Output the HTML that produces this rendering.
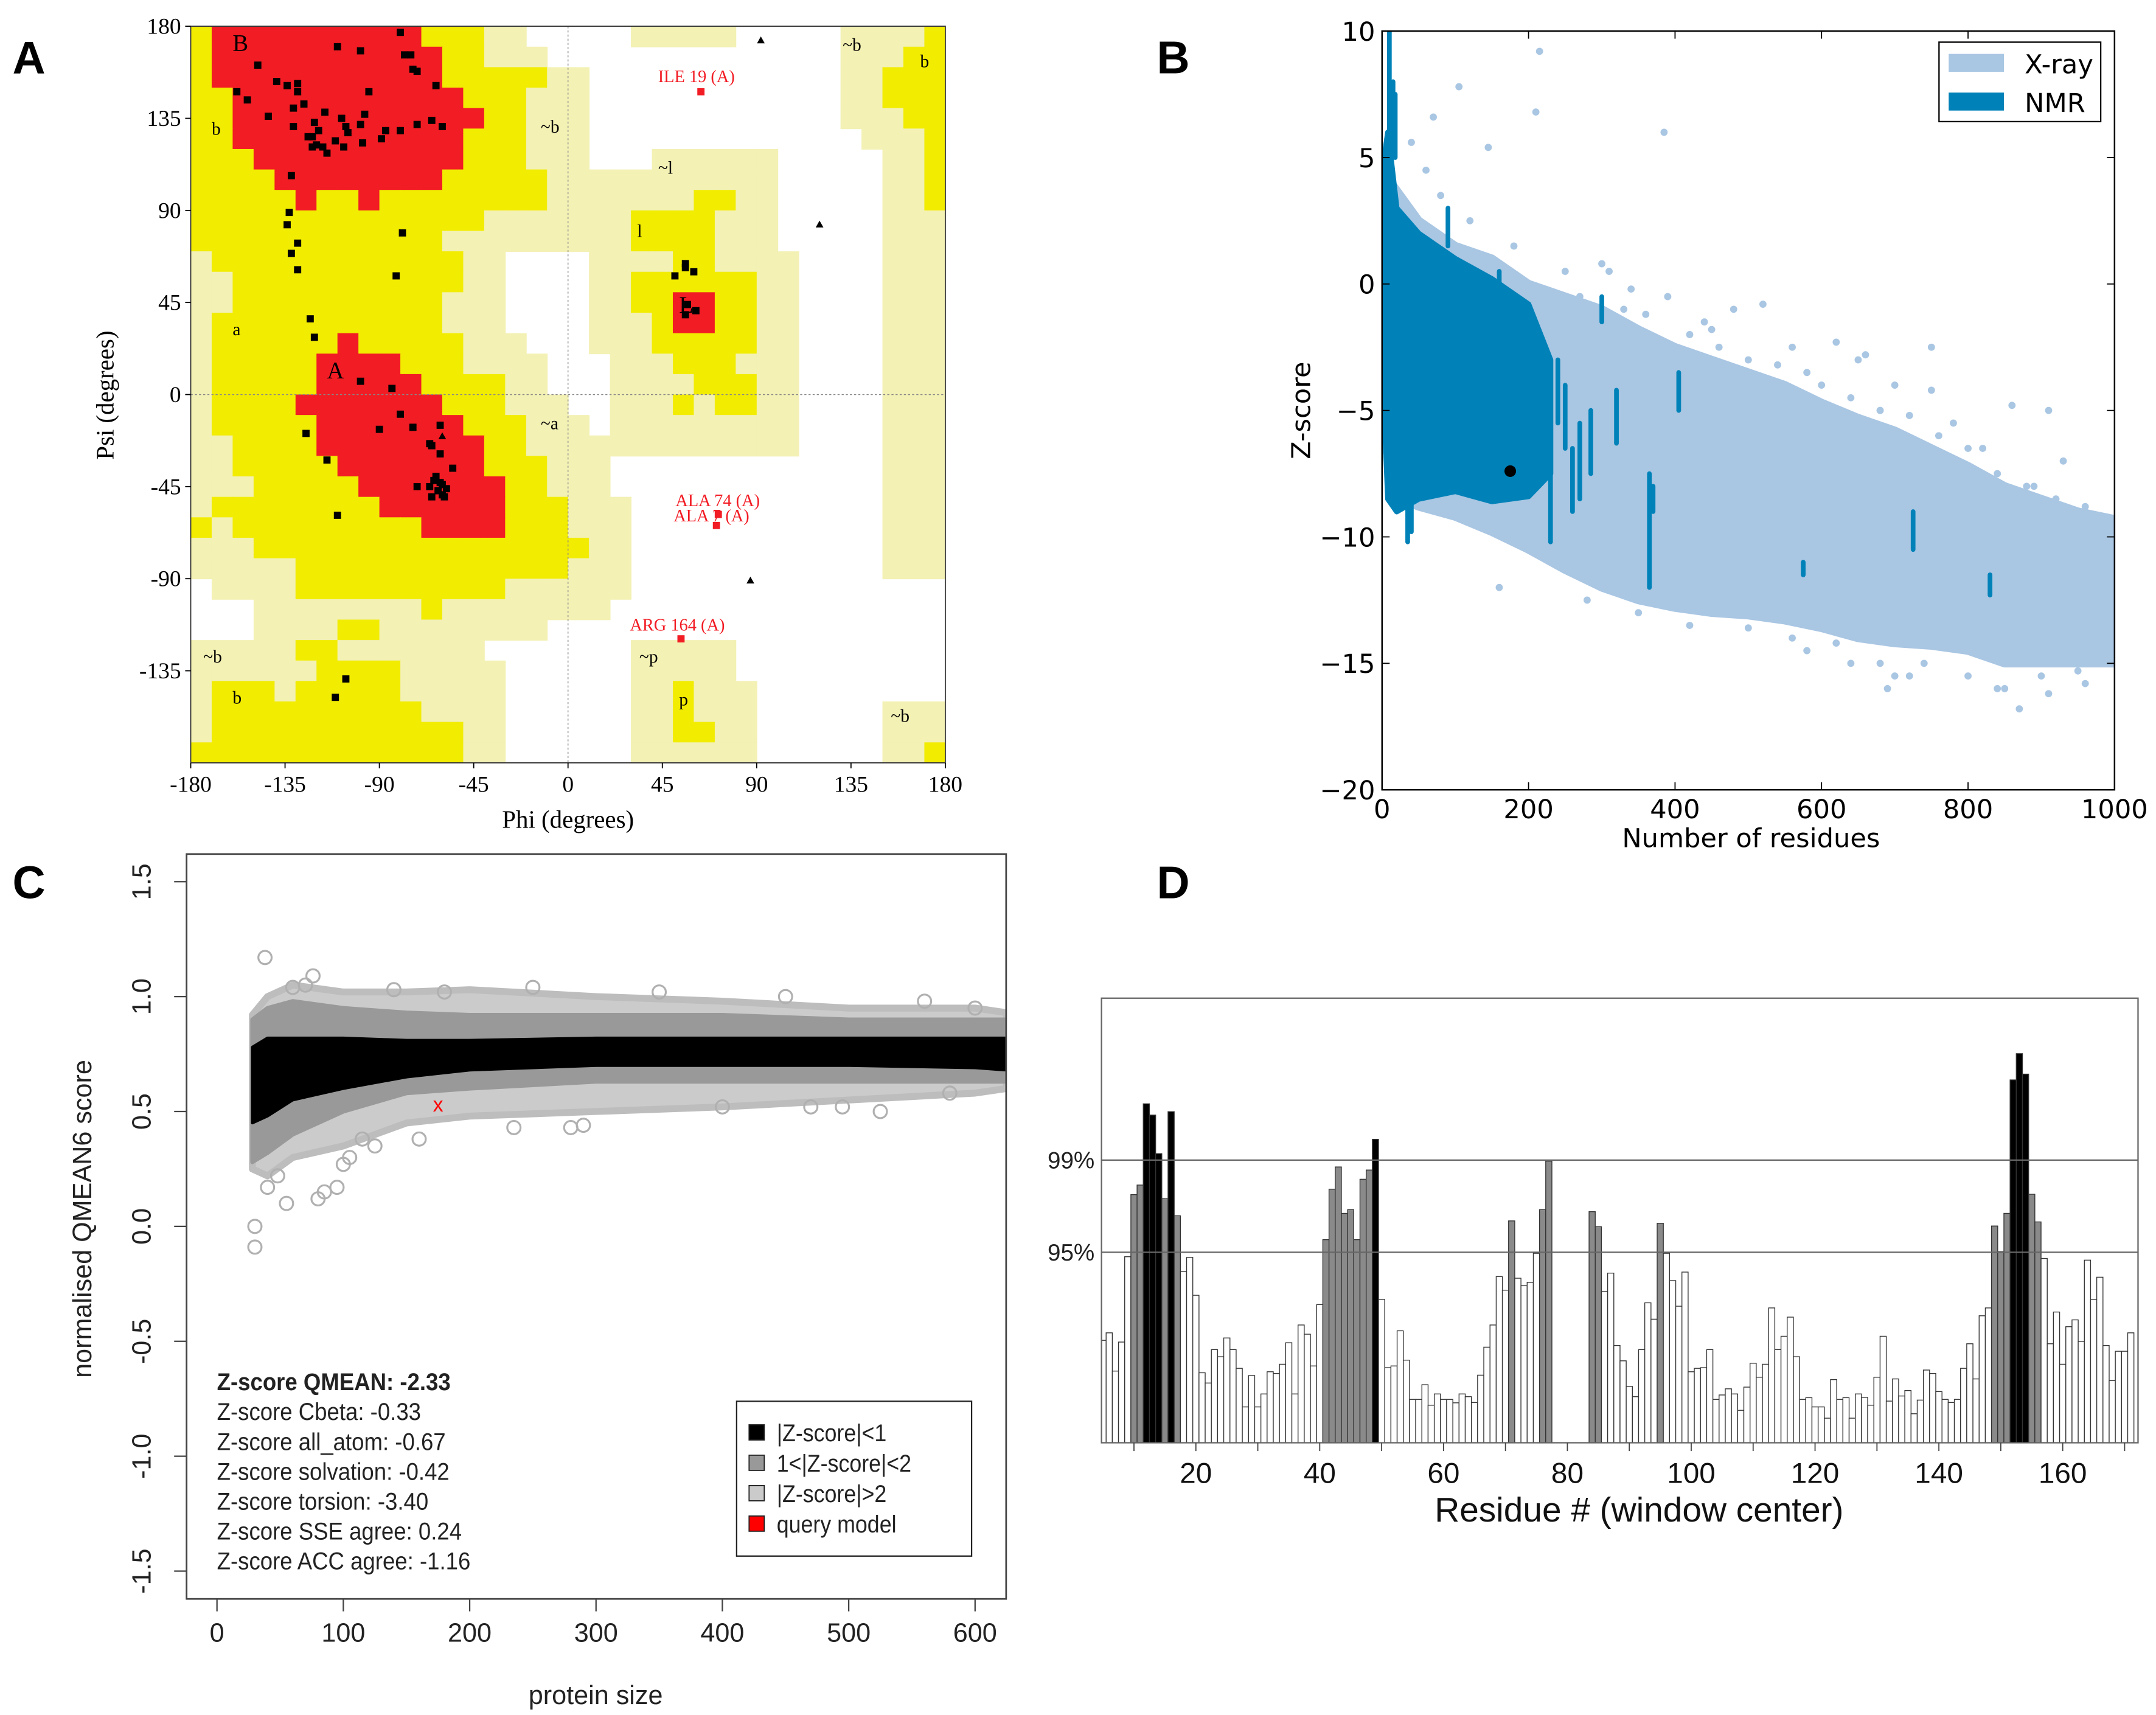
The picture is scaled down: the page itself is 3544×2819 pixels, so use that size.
<!DOCTYPE html>
<html><head><meta charset="utf-8"><style>
html,body{margin:0;padding:0;background:#fff}
svg{display:block}
</style></head><body>
<svg id="fig" width="3544" height="2819" viewBox="0 0 1560 1241" preserveAspectRatio="none" xmlns="http://www.w3.org/2000/svg">
<defs>
<clipPath id="clipA"><rect x="138" y="19" width="546" height="533"/></clipPath>
<clipPath id="clipB"><rect x="1000" y="22.5" width="530" height="549"/></clipPath>
<clipPath id="clipC"><rect x="135" y="618" width="593" height="539"/></clipPath>
<clipPath id="clipD"><rect x="797" y="722" width="750" height="322"/></clipPath>
</defs>
<rect x="0" y="0" width="1560" height="1241" fill="#fff"/>
<g font-family="Liberation Sans, sans-serif" font-weight="bold" font-size="33" fill="#000">
<text x="9" y="53">A</text>
<text x="837" y="53">B</text>
<text x="9" y="650">C</text>
<text x="837" y="650">D</text>
</g>
<g id="panelA"></g>
<g id="panelB"></g>
<g id="panelC"></g>
<g id="panelD"></g>
</svg>
<script>
// ---------- Panel A data ----------
const ramaRows = [
"YRRRRRRRRRRYYYLLWWWWWLLLLLWWWWWLLLLY",
"YRRRRRRRRRRRYYLLLWWWWWWWWWWWWWWLLLYY",
"YRRRRRRRRRRRYYYYYLLWWWWWWWWWWWWLLYYY",
"YYRRRRRRRRRRRYYYLLLWWWWWWWWWWWWLLYYY",
"YYRRRRRRRRRRRRYYLLLWWWWWWWWWWWWLLLYY",
"YYRRRRRRRRRRRYYYLLLWWWWWWWWWWWWWLLLY",
"YYYRRRRRRRRRRYYYLLLWWWLLLLLLWWWWWLLY",
"YYYYRRRRRRRRYYYYYLLLLLLLLLLLWWWWWLLY",
"YYYYYRYYRYYYYYYYYLLLLLLLYYLLWWWWWLLY",
"YYYYYYYYYYYYYYLLLLLLLYYYYLLLWWWWWLLL",
"YYYYYYYYYYYYLLLLLLLLLYYYYLLLWWWWWLLL",
"LYYYYYYYYYYYYLLWWWWLLLLYYLLLLWWWWLLL",
"LLYYYYYYYYYYYLLWWWWLLYYYYYYLLWWWWLLL",
"LLYYYYYYYYYYLLLWWWWLLYYRRYYLLWWWWLLL",
"LYYYYYYYYYYYLLLWWWWLLLYRRYYLLWWWWLLL",
"LYYYYYYRYYYYYLLLWWWLLLYYYYYLLWWWWLLL",
"LYYYYYRRRRYYYLLLLWWWLLLYYYLLLWWWWLLL",
"LYYYYYRRRRRYYYYLLWWWLLLLYYYLLWWWWLLL",
"LYYYYRRRRRRRYYYLLLWWLLLYLYYLLWWWWLLL",
"LYYYYYRRRRRRRYYYLLLWLLLLLLLLLWWWWLLL",
"LLYYYYRRRRRRRRYYLLLLLLLLLLLLLWWWWLLL",
"LLYYYYYRRRRRRRYYYLLLWWWWWWWWWWWWWLLL",
"LLLYYYYYRRRRRRRYYLLLWWWWWWWWWWWWWLLL",
"LYYYYYYYYRRRRRRYYYLLLWWWWWWWWWWWWLLL",
"YLYYYYYYYYYRRRRYYYLLLWWWWWWWWWWWWLLL",
"LLLYYYYYYYYYYYYYYYYLLWWWWWWWWWWWWLLL",
"LLLLLYYYYYYYYYYYYYLLLWWWWWWWWWWWWLLL",
"WLLLLYYYYYYYYYYLLLLLLWWWWWWWWWWWWWWW",
"WWWLLLLLLLLYLLLLLLLLWWWWWWWWWWWWWWWW",
"WWWLLLLYYLLLLLLLLWWWWWWWWWWWWWWWWWWW",
"LLLLLYYLLLLLLLWWWWWWWLLLLLWWWWWWWWWW",
"LLLLLLYYYYLLLLLWWWWWWLLLLLWWWWWWWWWW",
"LYYYLYYYYYLLLLLWWWWWWLLYLLLWWWWWWWWW",
"LYYYYYYYYYYLLLLWWWWWWLLYLLLWWWWWWLLL",
"LYYYYYYYYYYYYLLWWWWWWLLYYLLWWWWWWLLL",
"YYYYYYYYYYYYYLLWWWWWWLLLLLLWWWWWWLLY"
];
const ramaPhi = [-80,-110,-99,-148,-78,-75,-74,-72,-63,-139,-134,-129,-129,-158,-153,-95,-143,-131,-126,-116,-108,-97,-65,-72,-60,-121,-119,-122,-120,-122,-117,-115,-111,-124,-131,-107,-105,-106,-99,-98,-87,-89,-80,-132,-133,-134,-129,-132,-129,-79,-82,-123,-121,-99,-84,-80,-90,-74,-61,-125,-66,-65,-61,-115,-55,-64,-60,-62,-58,-66,-63,-59,-61,-72,-65,-60,-110,-106,-111,56,56,51,60,57,61,56];
const ramaPsi = [177,170,168,161,166,166,159,158,151,153,151,152,148,148,144,148,136,140,142,138,135,137,134,132,131,133,129,126,122,121,121,118,124,126,131,121,128,131,132,123,129,125,129,107,89,83,74,69,61,79,58,37,28,6.5,3,-9.6,-17,-16,-15,-19,-24,-25,-29,-32,-36,-42,-44,-47,-46,-45,-40,-50,-43,-45,-50,-49,-59,-139,-148,64,62,58,60,44,41,39];
const glyPhi = [92,120,87,-60];
const glyPsi = [173,83,-91,-20.5];
const outPhi = [63.4,71.7,70.8,53.9];
const outPsi = [148,-58.6,-64,-119.4];
const outLabels = ["ILE 19 (A)","ALA 74 (A)","ALA 7 (A)","ARG 164 (A)"];
const ramaTicks = [-180,-135,-90,-45,0,45,90,135,180];
const regionLabels = ["B","b","~b","~l","l","L","a","A","~a","~b","b","~b","b","~p","p","~b"];
const regionPhi = [-160,-170,-13,43,33,53,-160,-115,-13,131,168,-174,-160,34,53,154];
const regionPsi = [168,127,128,108,77,40,29,8,-17,168,160,-131,-151,-131,-152,-160];

// ---------- Panel B data ----------
const xrayN = [0,25,50,100,150,200,250,300,350,400,450,500,550,600,650,700,750,800,850,900,950,1000];
const xrayUpper = [4.5,3.5,2.5,1.5,1,0,-0.5,-1,-1.8,-2.5,-3,-3.5,-4,-4.7,-5.3,-5.8,-6.5,-7.2,-8,-8.5,-9,-9.3];
const xrayLower = [-6,-8.5,-8.8,-9.2,-9.8,-10.5,-11.3,-12,-12.5,-12.8,-13,-13.1,-13.3,-13.6,-14,-14.2,-14.3,-14.5,-15,-15,-15,-15];
const nmrN = [3,8,20,50,100,150,200,230];
const nmrUpper = [5,6,3,2,1,0.2,-0.8,-3];
const nmrLower = [-5,-8.5,-9,-8.5,-8.2,-8.6,-8.4,-7.5];
const nmrStreakN = [10,15,18,90,300,365,370,260,270,725,830,575,405,320,285,230,160,240,250,35,40];
const nmrStreakLo = [4,5,5,1.5,-1.5,-12,-9,-9,-8.5,-10.5,-12.3,-11.5,-5,-6.3,-7.5,-10.2,-2,-5.5,-6.5,-10.2,-9.8];
const nmrStreakHi = [10,8,7.5,3,-0.5,-7.5,-8,-6.5,-5.5,-9,-11.5,-11,-3.5,-4.2,-5,-7,0.5,-3,-4,-8.5,-8.5];
const xOutN = [215,105,70,210,385,145,40,520,620,750,860,910,930,580,660,700,680,160,870,690,840,910,950,980,310,340,390,560,780,820,890,960,995,640,720,480,440,650,250,270,330,360,420,460,500,540,600,640,680,720,760,800,840,880,920,960,120,80,60,180,280,350,420,500,560,620,680,740,800,850,900,960,580,700,300,450,750];
const xOutZ = [9.2,7.8,6.6,6.8,6,5.4,5.6,-0.8,-2.3,-2.5,-4.8,-5,-7,-3.5,-2.8,-4,-5,-12,-16.8,-16,-16,-16.2,-15.3,-14,0.5,-0.2,-0.5,-2.5,-5.5,-6.5,-8,-9,-9.5,-15,-15.5,-1,-1.5,-3,0.5,-0.5,-1,-1.2,-2,-2.5,-3,-3.2,-4,-4.5,-5,-5.2,-6,-6.5,-7.5,-8,-8.5,-8.8,2.5,3.5,4.5,1.5,-12.5,-13,-13.5,-13.6,-14,-14.2,-15,-15,-15.5,-16,-15.5,-15.8,-14.5,-15.5,0.8,-1.8,-4.2];
const queryN = [175];
const queryZ = [-7.4];
const bXTicks = [0,200,400,600,800,1000];
const bYTicks = [10,5,0,-5,-10,-15,-20];

// ---------- Panel C data ----------
const cN = [28,40,60,100,150,200,300,400,500,600,625];
const cLightUp = [0.92,1.0,1.05,1.02,1.02,1.03,1.0,0.98,0.95,0.95,0.93];
const cLightLo = [0.25,0.22,0.3,0.35,0.45,0.48,0.5,0.52,0.55,0.58,0.6];
const cGrayUp = [0.9,0.95,0.98,0.95,0.93,0.92,0.92,0.92,0.9,0.9,0.9];
const cGrayLo = [0.28,0.32,0.4,0.5,0.58,0.6,0.63,0.63,0.63,0.63,0.63];
const cBlackUp = [0.78,0.82,0.82,0.82,0.81,0.81,0.82,0.82,0.82,0.82,0.82];
const cBlackLo = [0.45,0.48,0.55,0.6,0.65,0.68,0.7,0.7,0.7,0.69,0.68];
const cOutN = [38,30,30,55,80,85,95,40,48,100,105,115,125,160,235,290,280,525,495,470,400,76,60,70,140,180,250,350,450,560,600,580];
const cOutV = [1.17,0.0,-0.09,0.1,0.12,0.15,0.17,0.17,0.22,0.27,0.3,0.38,0.35,0.38,0.43,0.44,0.43,0.5,0.52,0.52,0.52,1.09,1.04,1.05,1.03,1.02,1.04,1.02,1.0,0.98,0.95,0.58];
const cQueryN = [175];
const cQueryV = [0.53];
const cXTicks = [0,100,200,300,400,500,600];
const cYTicks = [1.5,1.0,0.5,0.0,-0.5,-1.0,-1.5];
const cYTickLabels = ["1.5","1.0","0.5","0.0","-0.5","-1.0","-1.5"];

// ---------- Panel D data ----------
const dFirstResidue = 5;
const dValues = [30.0,32.2,21.0,29.5,54.5,72.7,75.5,99.3,96.0,84.7,71.5,97.0,66.5,50.2,54.3,43.2,20.5,17.5,27.3,25.2,30.7,27.3,21.8,10.5,19.7,10.5,14.3,20.8,20.3,23.0,29.3,14.3,34.5,31.8,22.5,40.5,59.5,74.3,80.8,67.2,68.3,59.5,77.2,79.9,88.9,42.0,22.0,22.5,32.8,24.2,12.7,12.7,17.0,11.0,14.3,12.7,12.7,11.7,14.3,13.5,11.8,19.8,28.0,34.5,48.7,44.7,65.0,48.2,46.0,47.0,55.5,68.3,82.5,0,0,0,0,0,0,67.7,63.3,44.3,49.7,28.5,24.0,16.5,13.5,27.3,41.0,36.2,64.3,55.5,47.5,40.0,50.0,20.8,21.8,22.0,27.3,12.7,14.0,15.8,14.3,9.5,16.3,23.3,19.2,23.0,39.5,27.3,31.2,36.8,25.2,12.7,13.2,10.5,10.5,7.2,18.5,12.7,13.2,7.2,14.3,13.3,11.0,19.2,31.2,12.2,18.7,13.7,15.3,8.5,12.5,21.3,20.3,15.0,12.7,11.8,12.7,21.8,29.0,18.7,37.2,39.5,63.5,56.0,67.2,106.3,114.0,108.0,72.8,64.7,54.0,29.0,38.3,23.0,34.0,36.0,29.7,53.5,42.0,48.5,28.5,18.2,26.8,26.8,32.2];
const dThresholds = [55.8,82.8];
const dThresholdLabels = ["95%","99%"];
const dXTicks = [20,40,60,80,100,120,140,160];

// ---------- drawing ----------
const NS = "http://www.w3.org/2000/svg";
function mk(tag, parent, attrs) {
  const e = document.createElementNS(NS, tag);
  for (const k in attrs) e.setAttribute(k, attrs[k]);
  parent.appendChild(e);
  return e;
}
function txt(parent, x, y, s, attrs) {
  const t = mk("text", parent, Object.assign({x: x, y: y}, attrs));
  t.textContent = s;
  return t;
}

// Panel A
(function(){
  const g = document.getElementById("panelA");
  const ax = p => 138 + (p + 180) * 546 / 360;
  const ay = s => 19 + (180 - s) * 533 / 360;
  const colors = {R:"#f21c24", Y:"#f2ec00", L:"#f3f1b4", W:"#ffffff"};
  const grid = mk("g", g, {"clip-path":"url(#clipA)"});
  
  
  ramaRows.forEach((row, r) => {
    for (let c = 0; c < 36; c++) {
      const ch = row[c] || "W";
      if (ch === "W") continue;
      const x0 = ax(-180 + 10 * c), x1 = ax(-170 + 10 * c);
      const y0 = ay(180 - 10 * r), y1 = ay(170 - 10 * r);
      const cell = mk("rect", grid, {x: x0, y: y0, width: x1 - x0 + 0.4, height: y1 - y0 + 0.4, fill: colors[ch]});
      
      
    }
  });
  const zl1 = mk("line", g, {x1: ax(0), x2: ax(0), y1: 19, y2: 552, stroke: "#888", "stroke-width": 0.6, "stroke-dasharray": "1.5,1.5"});
  
  
  const zl2 = mk("line", g, {x1: 138, x2: 684, y1: ay(0), y2: ay(0), stroke: "#888", "stroke-width": 0.6, "stroke-dasharray": "1.5,1.5"});
  
  
  const frame = mk("rect", g, {x: 138, y: 19, width: 546, height: 533, fill: "none", stroke: "#333", "stroke-width": 0.8});
  
  
  regionLabels.forEach((l, i) => {
    const t = txt(g, ax(regionPhi[i]), ay(regionPsi[i]), l, {"font-family": "Liberation Serif, serif", "font-size": l.length === 1 && l === l.toUpperCase() ? 17 : 13, fill: "#000"});
    
    
  });
  ramaPhi.forEach((p, i) => {
    const s = mk("rect", g, {x: ax(p) - 2.6, y: ay(ramaPsi[i]) - 2.6, width: 5.2, height: 5.2, fill: "#000"});
    
    
  });
  glyPhi.forEach((p, i) => {
    const x = ax(p), y = ay(glyPsi[i]);
    const t = mk("polygon", g, {points: `${x},${y-3} ${x-2.8},${y+2} ${x+2.8},${y+2}`, fill: "#000"});
    
    
  });
  outPhi.forEach((p, i) => {
    const x = ax(p), y = ay(outPsi[i]);
    const s = mk("rect", g, {x: x - 2.6, y: y - 2.6, width: 5.2, height: 5.2, fill: "#f21c24"});
    
    
    const t = txt(g, x - 31, y - 7, outLabels[i], {"font-family": "Liberation Serif, serif", "font-size": 12.5, fill: "#f21c24"});
    if (i === 1) t.setAttribute("y", y - 6);
    if (i === 2) t.setAttribute("y", y - 3);
    if (i === 3) { t.setAttribute("x", x - 37); t.setAttribute("y", y - 6); }
    
    
  });
  ramaTicks.forEach(v => {
    const tx = mk("line", g, {x1: ax(v), x2: ax(v), y1: 552, y2: 556, stroke: "#000", "stroke-width": 0.8});
    
    
    const lx = txt(g, ax(v), 573, String(v), {"font-family": "Liberation Serif, serif", "font-size": 16.5, "text-anchor": "middle"});
    
    
    if (v > -180) {
      const ty = mk("line", g, {x1: 134, x2: 138, y1: ay(v), y2: ay(v), stroke: "#000", "stroke-width": 0.8});
      
      
      const ly = txt(g, 131, ay(v) + 5.5, String(v), {"font-family": "Liberation Serif, serif", "font-size": 16.5, "text-anchor": "end"});
      
      
    }
  });
  const xt = txt(g, 411, 599, "Phi (degrees)", {"font-family": "Liberation Serif, serif", "font-size": 18, "text-anchor": "middle"});
  
  
  const yt = txt(g, 0, 0, "Psi (degrees)", {"font-family": "Liberation Serif, serif", "font-size": 18, "text-anchor": "middle", transform: "translate(82,286) rotate(-90)"});
  
  
})();

// Panel B
(function(){
  const g = document.getElementById("panelB");
  const bx = n => 1000 + n * 0.53;
  const by = z => 22.5 + (10 - z) * 18.3;
  const inner = mk("g", g, {"clip-path": "url(#clipB)"});
  
  
  const band = (xs, up, lo) => xs.map((n, i) => `${bx(n)},${by(up[i])}`).concat(xs.slice().reverse().map((n, j) => `${bx(n)},${by(lo[xs.length - 1 - j])}`)).join(" ");
  const xb = mk("polygon", inner, {points: band(xrayN, xrayUpper, xrayLower), fill: "#a9c6e3", stroke: "#a9c6e3", "stroke-width": 6, "stroke-linejoin": "round"});
  
  
  xOutN.forEach((n, i) => {
    const c = mk("circle", inner, {cx: bx(n), cy: by(xOutZ[i]), r: 2.6, fill: "#a9c6e3"});
    
    
  });
  const nb = mk("polygon", inner, {points: band(nmrN, nmrUpper, nmrLower), fill: "#0082b8", stroke: "#0082b8", "stroke-width": 4, "stroke-linejoin": "round"});
  
  
  nmrStreakN.forEach((n, i) => {
    const l = mk("line", inner, {x1: bx(n), x2: bx(n), y1: by(nmrStreakHi[i]), y2: by(nmrStreakLo[i]), stroke: "#0082b8", "stroke-width": 3.4, "stroke-linecap": "round"});
    
    
  });
  queryN.forEach((n, i) => {
    const c = mk("circle", inner, {cx: bx(n), cy: by(queryZ[i]), r: 4.2, fill: "#000"});
    
    
  });
  const fr = mk("rect", g, {x: 1000, y: 22.5, width: 530, height: 549, fill: "none", stroke: "#000", "stroke-width": 1.1});
  
  
  const font = {"font-family": "DejaVu Sans, sans-serif", "font-size": 19};
  bXTicks.forEach(v => {
    const t1 = mk("line", g, {x1: bx(v), x2: bx(v), y1: 571.5, y2: 566, stroke: "#000", "stroke-width": 0.8});
    
    
    const t2 = mk("line", g, {x1: bx(v), x2: bx(v), y1: 22.5, y2: 28, stroke: "#000", "stroke-width": 0.8});
    
    
    const l = txt(g, bx(v), 592, String(v), Object.assign({"text-anchor": "middle"}, font));
    
    
  });
  bYTicks.forEach(v => {
    const t1 = mk("line", g, {x1: 1000, x2: 1005.5, y1: by(v), y2: by(v), stroke: "#000", "stroke-width": 0.8});
    
    
    const t2 = mk("line", g, {x1: 1524.5, x2: 1530, y1: by(v), y2: by(v), stroke: "#000", "stroke-width": 0.8});
    
    
    const l = txt(g, 995, by(v) + 7, String(v).replace("-", "\u2212"), Object.assign({"text-anchor": "end"}, font));
    
    
  });
  const xt = txt(g, 1267, 613, "Number of residues", Object.assign({"text-anchor": "middle"}, font));
  
  
  const yt = txt(g, 0, 0, "Z-score", Object.assign({"text-anchor": "middle", transform: "translate(948,297) rotate(-90)"}, font));
  
  
  const lg = mk("g", g, {});
  
  
  const lb = mk("rect", lg, {x: 1403, y: 30.5, width: 117, height: 57.5, fill: "#fff", stroke: "#000", "stroke-width": 1});
  
  
  const s1 = mk("rect", lg, {x: 1410, y: 39, width: 40, height: 13, fill: "#a9c6e3"});
  
  
  const s2 = mk("rect", lg, {x: 1410, y: 67, width: 40, height: 13, fill: "#0082b8"});
  
  
  const l1 = txt(lg, 1465, 53, "X-ray", font);
  
  
  const l2 = txt(lg, 1465, 81, "NMR", font);
  
  
})();

// Panel C
(function(){
  const g = document.getElementById("panelC");
  const cx = n => 157 + n * 0.9142;
  const cy = v => 638 + (1.5 - v) * 166.3;
  const inner = mk("g", g, {"clip-path": "url(#clipC)"});
  
  
  const band = (up, lo) => cN.map((n, i) => `${cx(n)},${cy(up[i])}`).concat(cN.slice().reverse().map((n, j) => `${cx(n)},${cy(lo[cN.length - 1 - j])}`)).join(" ");
  const b1 = mk("polygon", inner, {points: band(cLightUp, cLightLo), fill: "#cbcbcb", stroke: "#bdbdbd", "stroke-width": 5, "stroke-linejoin": "round"});
  
  
  const b2 = mk("polygon", inner, {points: band(cGrayUp, cGrayLo), fill: "#999", stroke: "#999", "stroke-width": 3, "stroke-linejoin": "round"});
  
  
  const b3 = mk("polygon", inner, {points: band(cBlackUp, cBlackLo), fill: "#000", stroke: "#000", "stroke-width": 2, "stroke-linejoin": "round"});
  
  
  cOutN.forEach((n, i) => {
    const c = mk("circle", inner, {cx: cx(n), cy: cy(cOutV[i]), r: 4.8, fill: "none", stroke: "#b0b0b0", "stroke-width": 1.4});
    
    
  });
  cQueryN.forEach((n, i) => {
    const t = txt(g, cx(n), cy(cQueryV[i]) + 5, "x", {"font-family": "Liberation Sans, sans-serif", "font-size": 15, fill: "#f00", "text-anchor": "middle"});
    
    
  });
  const fr = mk("rect", g, {x: 135, y: 618, width: 593, height: 539, fill: "none", stroke: "#444", "stroke-width": 1.2});
  
  
  const font = {"font-family": "Liberation Sans, sans-serif", "font-size": 19, fill: "#222"};
  cXTicks.forEach(v => {
    const t = mk("line", g, {x1: cx(v), x2: cx(v), y1: 1157, y2: 1166, stroke: "#444", "stroke-width": 1});
    
    
    const l = txt(g, cx(v), 1188, String(v), Object.assign({"text-anchor": "middle"}, font));
    
    
  });
  cYTicks.forEach((v, i) => {
    const t = mk("line", g, {x1: 126, x2: 135, y1: cy(v), y2: cy(v), stroke: "#444", "stroke-width": 1});
    
    
    const l = txt(g, 0, 0, cYTickLabels[i], Object.assign({"text-anchor": "middle", transform: `translate(109,${cy(v)}) rotate(-90)`}, font));
    
    
  });
  const xt = txt(g, 431, 1233, "protein size", Object.assign({"text-anchor": "middle"}, font));
  
  
  const yt = txt(g, 0, 0, "normalised QMEAN6 score", Object.assign({"text-anchor": "middle", transform: "translate(66,882) rotate(-90)"}, font));
  
  
  const stats = ["Z-score QMEAN: -2.33","Z-score Cbeta: -0.33","Z-score all_atom: -0.67","Z-score solvation: -0.42","Z-score torsion: -3.40","Z-score SSE agree: 0.24","Z-score ACC agree: -1.16"];
  stats.forEach((s, i) => {
    const t = txt(g, 157, 1006 + i * 21.6, s, {"font-family": "Liberation Sans Narrow, Liberation Sans, sans-serif", "font-size": 17.5, fill: "#222", "font-weight": i === 0 ? "bold" : "normal", "transform": `translate(157,0) scale(0.92,1) translate(-157,0)`});
    
    
  });
  const lg = mk("g", g, {});
  
  
  const lb = mk("rect", lg, {x: 533, y: 1014, width: 170, height: 112, fill: "#fff", stroke: "#222", "stroke-width": 1});
  
  
  const lgLabels = ["|Z-score|<1","1<|Z-score|<2","|Z-score|>2","query model"];
  const lgColors = ["#000","#999","#cbcbcb","#f00"];
  lgLabels.forEach((s, i) => {
    const y = 1037 + i * 22;
    const sw = mk("rect", lg, {x: 542, y: y - 6, width: 11, height: 11, fill: lgColors[i], stroke: "#222", "stroke-width": 0.8});
    
    
    const t = txt(lg, 562, y + 6, s, {"font-family": "Liberation Sans, sans-serif", "font-size": 17.5, fill: "#222", transform: `translate(562,0) scale(0.9,1) translate(-562,0)`});
    
    
  });
})();

// Panel D
(function(){
  const g = document.getElementById("panelD");
  const dx = r => 865.3 + (r - 20) * 4.48;
  const dy = v => 1044 - v * 2.470;
  const inner = mk("g", g, {"clip-path": "url(#clipD)"});
  
  
  dValues.forEach((v, i) => {
    if (v <= 0) return;
    const r = dFirstResidue + i;
    const fill = v >= dThresholds[1] ? "#000" : (v >= dThresholds[0] ? "#8a8a8a" : "#fff");
    const b = mk("rect", inner, {x: dx(r - 0.5), y: dy(v), width: 4.48, height: 1044 - dy(v), fill: fill, stroke: "#333", "stroke-width": 0.6});
    
    
  });
  dThresholds.forEach((t, i) => {
    const l = mk("line", g, {x1: 797, x2: 1547, y1: dy(t), y2: dy(t), stroke: "#666", "stroke-width": 1});
    
    
    const tl = txt(g, 792, dy(t) + 6, dThresholdLabels[i], {"font-family": "Liberation Sans, sans-serif", "font-size": 17, fill: "#222", "text-anchor": "end"});
    
    
  });
  const fr = mk("rect", g, {x: 797, y: 722.3, width: 750, height: 321.7, fill: "none", stroke: "#666", "stroke-width": 1});
  
  
  for (let r = 10; r <= 170; r += 10) {
    const t = mk("line", g, {x1: dx(r), x2: dx(r), y1: 1044, y2: 1050, stroke: "#444", "stroke-width": 0.8});
    
    
  }
  dXTicks.forEach(v => {
    const l = txt(g, dx(v), 1073, String(v), {"font-family": "Liberation Sans, sans-serif", "font-size": 21, fill: "#111", "text-anchor": "middle"});
    
    
  });
  const xt = txt(g, 1186, 1101, "Residue # (window center)", {"font-family": "Liberation Sans, sans-serif", "font-size": 25, fill: "#111", "text-anchor": "middle"});
  
  
})();
</script>
</body></html>
